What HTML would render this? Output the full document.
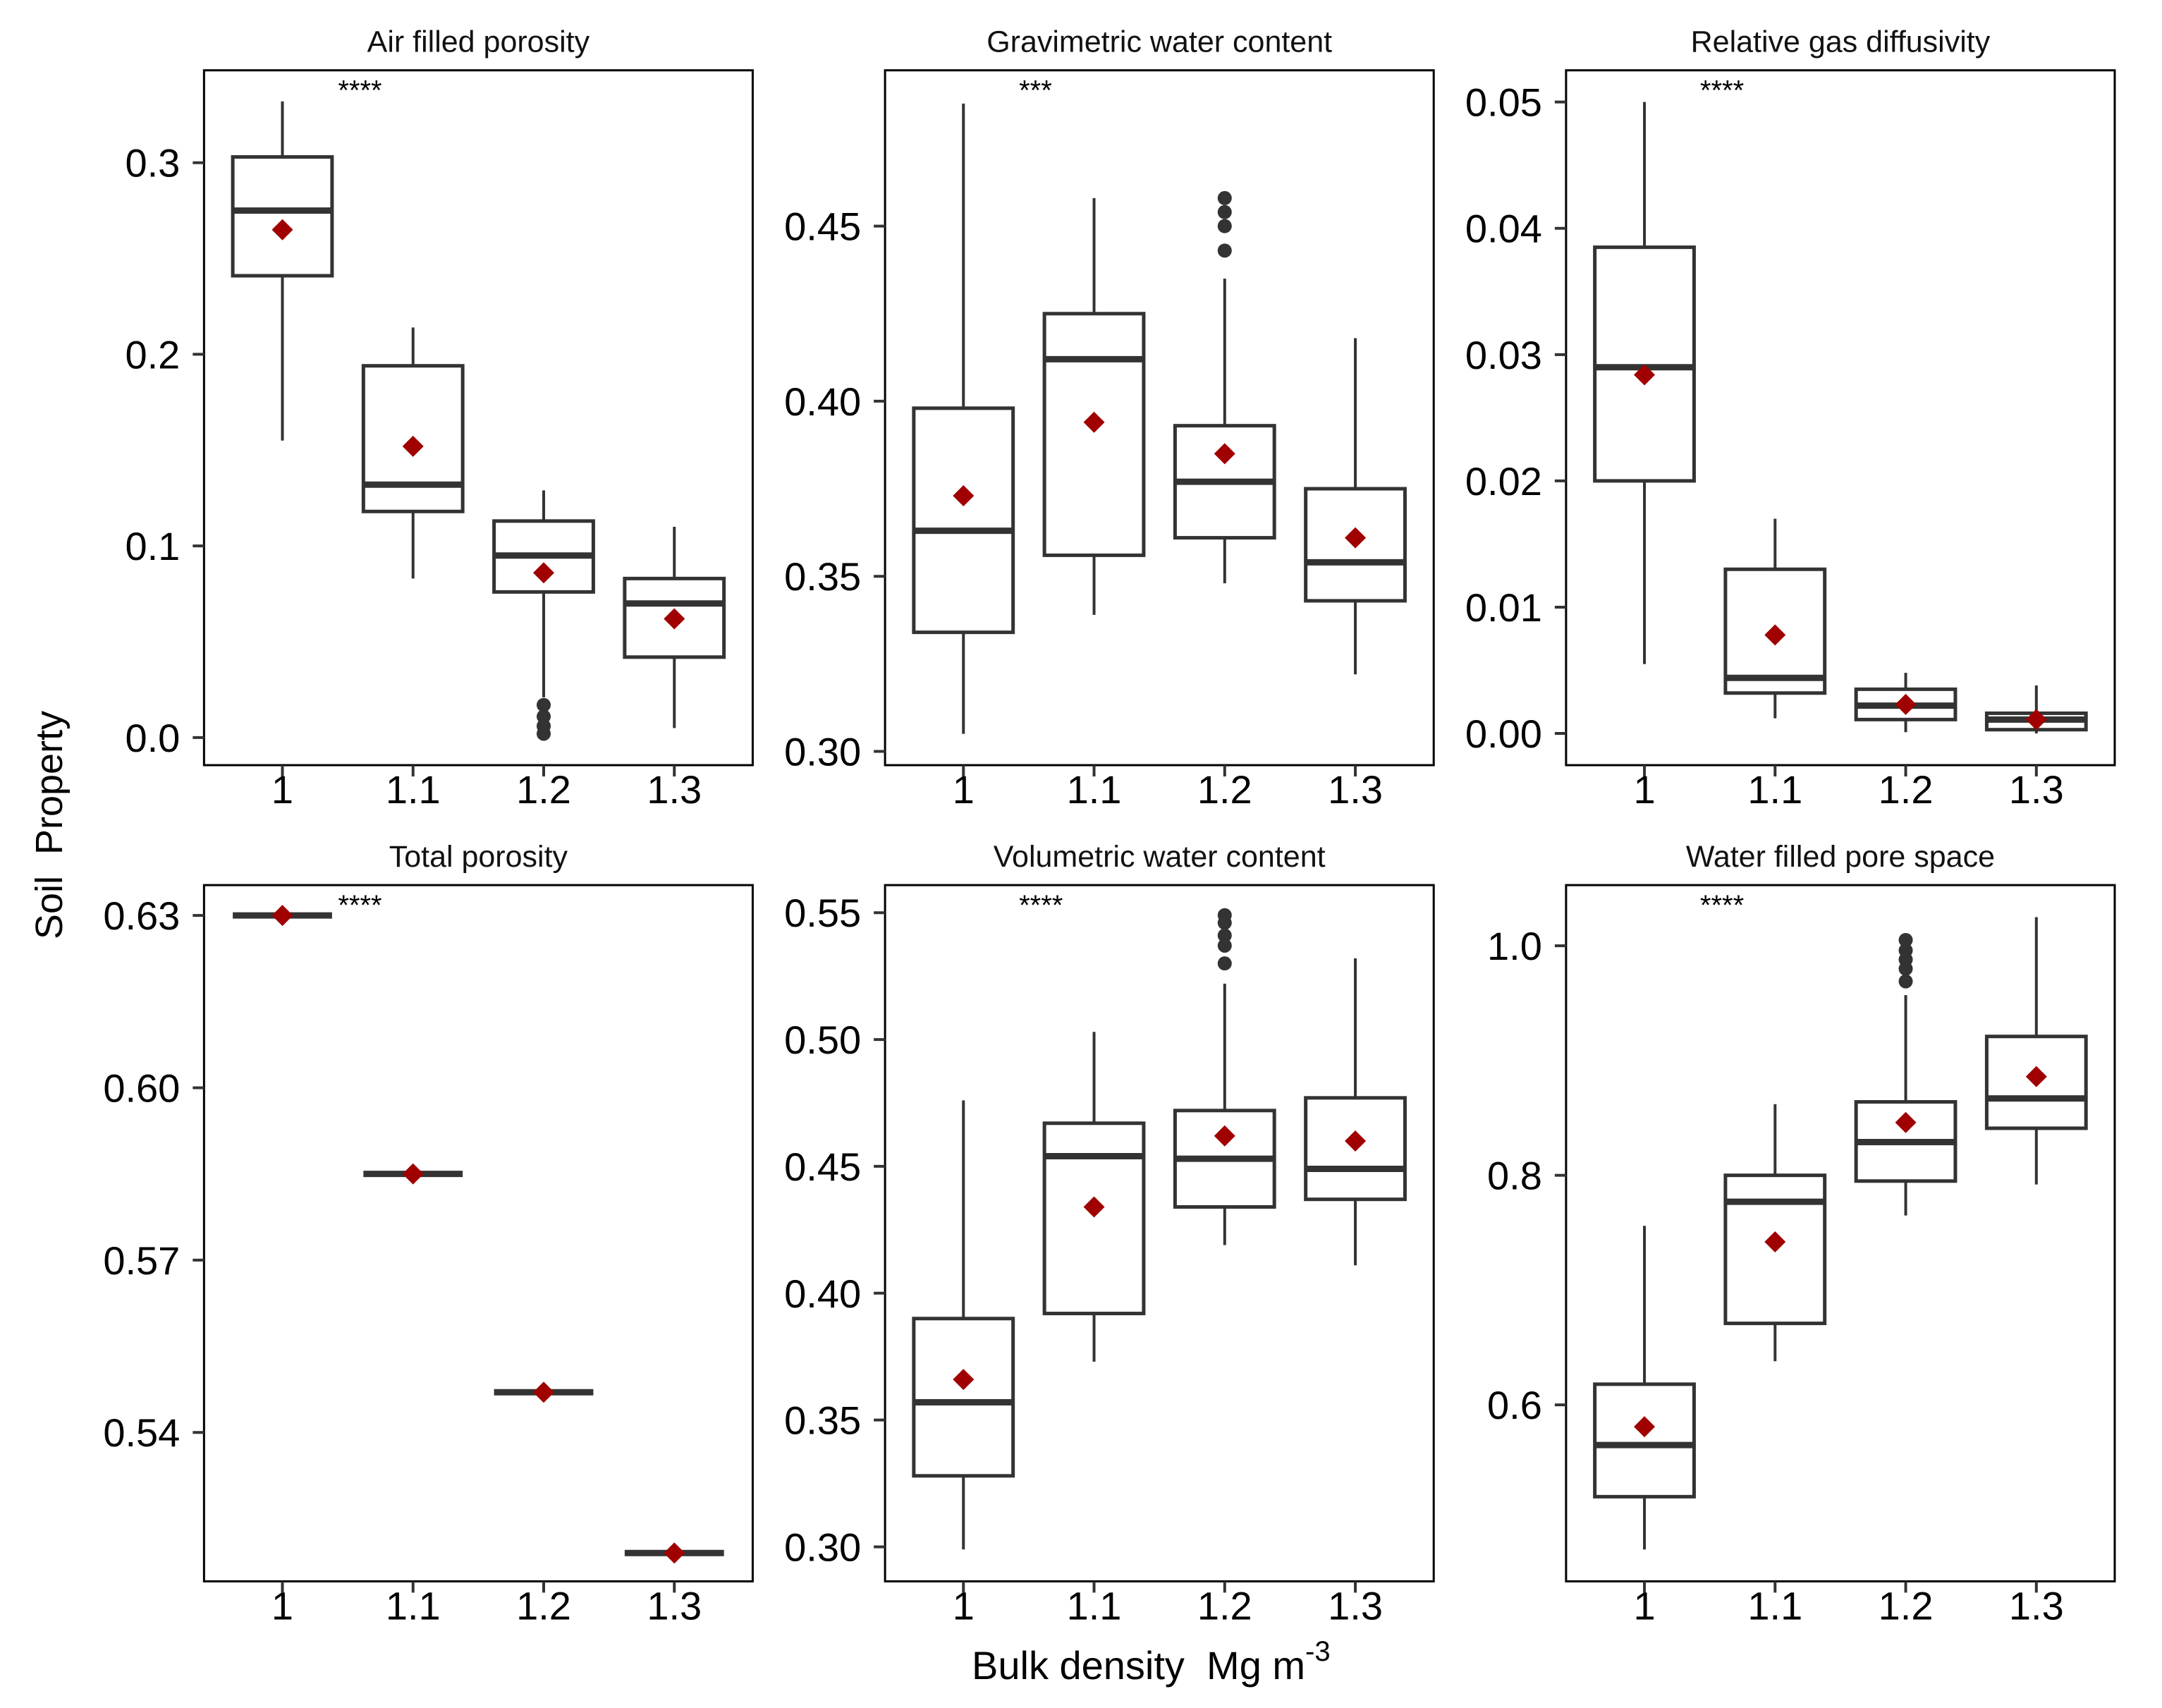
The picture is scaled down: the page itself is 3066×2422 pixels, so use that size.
<!DOCTYPE html>
<html><head><meta charset="utf-8"><style>
html,body{margin:0;padding:0;background:#fff;}
svg{display:block;font-family:"Liberation Sans",sans-serif;}
</style></head><body>
<svg id="chart" width="3066" height="2422" viewBox="0 0 3066 2422" xmlns="http://www.w3.org/2000/svg">
<rect width="3066" height="2422" fill="#fff"/>
<text transform="translate(88,1170) rotate(-90)" text-anchor="middle" font-size="54" fill="#000" xml:space="preserve">Soil  Property</text>
<text x="1378" y="2381" font-size="56" fill="#000" xml:space="preserve">Bulk density  Mg m<tspan dy="-26" font-size="40">-3</tspan></text>
</svg>
<script>
const categories = ["1","1.1","1.2","1.3"];
// Air filled porosity
const afpMin=[0.155,0.083,0.021,0.005], afpQ1=[0.241,0.118,0.076,0.042], afpMed=[0.275,0.132,0.095,0.070], afpQ3=[0.303,0.194,0.113,0.083], afpMax=[0.332,0.214,0.129,0.110], afpMean=[0.265,0.152,0.086,0.062];
const afpOut=[[],[],[0.017,0.011,0.006,0.002],[]];
const afpTicks=["0.0","0.1","0.2","0.3"];
// Gravimetric water content
const gwcMin=[0.305,0.339,0.348,0.322], gwcQ1=[0.334,0.356,0.361,0.343], gwcMed=[0.363,0.412,0.377,0.354], gwcQ3=[0.398,0.425,0.393,0.375], gwcMax=[0.485,0.458,0.435,0.418], gwcMean=[0.373,0.394,0.385,0.361];
const gwcOut=[[],[],[0.458,0.454,0.450,0.443],[]];
const gwcTicks=["0.30","0.35","0.40","0.45"];
// Relative gas diffusivity
const rgdMin=[0.0055,0.0012,0.0001,0.0], rgdQ1=[0.020,0.0032,0.0011,0.0003], rgdMed=[0.029,0.0044,0.0022,0.0011], rgdQ3=[0.0385,0.013,0.0035,0.0016], rgdMax=[0.050,0.017,0.0048,0.0038], rgdMean=[0.0284,0.0078,0.0023,0.0011];
const rgdOut=[[],[],[],[]];
const rgdTicks=["0.00","0.01","0.02","0.03","0.04","0.05"];
// Total porosity
const tpMed=[0.630,0.585,0.547,0.519], tpMean=[0.630,0.585,0.547,0.519];
const tpOut=[[],[],[],[]];
const tpTicks=["0.54","0.57","0.60","0.63"];
// Volumetric water content
const vwcMin=[0.299,0.373,0.419,0.411], vwcQ1=[0.328,0.392,0.434,0.437], vwcMed=[0.357,0.454,0.453,0.449], vwcQ3=[0.390,0.467,0.472,0.477], vwcMax=[0.476,0.503,0.522,0.532], vwcMean=[0.366,0.434,0.462,0.460];
const vwcOut=[[],[],[0.549,0.546,0.541,0.537,0.530],[]];
const vwcTicks=["0.30","0.35","0.40","0.45","0.50","0.55"];
// Water filled pore space
const wfpMin=[0.474,0.638,0.765,0.792], wfpQ1=[0.520,0.671,0.795,0.841], wfpMed=[0.565,0.777,0.829,0.867], wfpQ3=[0.618,0.800,0.864,0.921], wfpMax=[0.756,0.862,0.957,1.025], wfpMean=[0.581,0.742,0.846,0.886];
const wfpOut=[[],[],[1.005,0.996,0.988,0.980,0.969],[]];
const wfpTicks=["0.6","0.8","1.0"];

const NS="http://www.w3.org/2000/svg";
const svg=document.getElementById("chart");
function mk(tag,attrs,parent){const e=document.createElementNS(NS,tag);for(const k in attrs)e.setAttribute(k,attrs[k]);(parent||svg).appendChild(e);return e;}
const S=1.955;
const panels=[
 {name:"air-filled-porosity",title:"Air filled porosity",stars:"****",x0:148,x1:546,y0:51,y1:555,v0:0,p0:535,v1:0.3,p1:118,ticks:afpTicks,mn:afpMin,q1:afpQ1,md:afpMed,q3:afpQ3,mx:afpMax,mean:afpMean,out:afpOut},
 {name:"gravimetric-water-content",title:"Gravimetric water content",stars:"***",x0:642,x1:1040,y0:51,y1:555,v0:0.30,p0:545,v1:0.45,p1:164,ticks:gwcTicks,mn:gwcMin,q1:gwcQ1,md:gwcMed,q3:gwcQ3,mx:gwcMax,mean:gwcMean,out:gwcOut},
 {name:"relative-gas-diffusivity",title:"Relative gas diffusivity",stars:"****",x0:1136,x1:1534,y0:51,y1:555,v0:0,p0:532,v1:0.05,p1:74,ticks:rgdTicks,mn:rgdMin,q1:rgdQ1,md:rgdMed,q3:rgdQ3,mx:rgdMax,mean:rgdMean,out:rgdOut},
 {name:"total-porosity",title:"Total porosity",stars:"****",x0:148,x1:546,y0:642,y1:1147,v0:0.54,p0:1039,v1:0.63,p1:664,ticks:tpTicks,mn:tpMed,q1:tpMed,md:tpMed,q3:tpMed,mx:tpMed,mean:tpMean,out:tpOut},
 {name:"volumetric-water-content",title:"Volumetric water content",stars:"****",x0:642,x1:1040,y0:642,y1:1147,v0:0.30,p0:1122,v1:0.55,p1:662,ticks:vwcTicks,mn:vwcMin,q1:vwcQ1,md:vwcMed,q3:vwcQ3,mx:vwcMax,mean:vwcMean,out:vwcOut},
 {name:"water-filled-pore-space",title:"Water filled pore space",stars:"****",x0:1136,x1:1534,y0:642,y1:1147,v0:0.6,p0:1019,v1:1.0,p1:686,ticks:wfpTicks,mn:wfpMin,q1:wfpQ1,md:wfpMed,q3:wfpQ3,mx:wfpMax,mean:wfpMean,out:wfpOut}
];
panels.forEach(p=>{
  const X0=p.x0*S, X1=p.x1*S, Y0=p.y0*S, Y1=p.y1*S;
  const g=mk("g",{});
  
  
  const yS=v=>(p.p0+(v-p.v0)/(p.v1-p.v0)*(p.p1-p.p0))*S;
  const step=(X1-X0)/4.2; const xS=i=>X0+step*(0.6+i);
  const bw=step*0.76;
  const t=mk("text",{x:(X0+X1)/2,y:Y0-26,"text-anchor":"middle","font-size":43,fill:"#111"},g);
  t.textContent=p.title;
  
  
  const fr=mk("rect",{x:X0,y:Y0,width:X1-X0,height:Y1-Y0,fill:"none",stroke:"#000","stroke-width":3},g);
  
  
  const st=mk("text",{x:X0+190,y:Y0+42,"font-size":40,fill:"#000"},g);
  st.textContent=p.stars;
  
  
  p.ticks.forEach(tk=>{
    const y=yS(parseFloat(tk));
    mk("line",{x1:X0-16,x2:X0,y1:y,y2:y,stroke:"#333","stroke-width":4},g);
    const tl=mk("text",{x:X0-34,y:y+20,"text-anchor":"end","font-size":56,fill:"#000"},g);
    tl.textContent=tk;
    
    
  });
  categories.forEach((c,i)=>{
    const x=xS(i);
    mk("line",{x1:x,x2:x,y1:Y1,y2:Y1+16,stroke:"#333","stroke-width":4},g);
    const xl=mk("text",{x:x,y:Y1+54,"text-anchor":"middle","font-size":56,fill:"#000"},g);
    xl.textContent=c;
    
    
    const bg=mk("g",{},g);
    
    
    mk("line",{x1:x,x2:x,y1:yS(p.mx[i]),y2:yS(p.q3[i]),stroke:"#333","stroke-width":4},bg);
    mk("line",{x1:x,x2:x,y1:yS(p.q1[i]),y2:yS(p.mn[i]),stroke:"#333","stroke-width":4},bg);
    const top=yS(p.q3[i]), bot=yS(p.q1[i]);
    if(bot-top>1) mk("rect",{x:x-bw/2,y:top,width:bw,height:bot-top,fill:"#fff",stroke:"#333","stroke-width":5},bg);
    mk("line",{x1:x-bw/2,x2:x+bw/2,y1:yS(p.md[i]),y2:yS(p.md[i]),stroke:"#333","stroke-width":9},bg);
    p.out[i].forEach(v=>{
      const o=mk("circle",{cx:x,cy:yS(v),r:10,fill:"#333"},bg);
      
      
    });
    const my=yS(p.mean[i]), d=15;
    const dm=mk("polygon",{points:`${x},${my-d} ${x+d},${my} ${x},${my+d} ${x-d},${my}`,fill:"#a00000"},bg);
    
    
  });
});
</script>
</body></html>
